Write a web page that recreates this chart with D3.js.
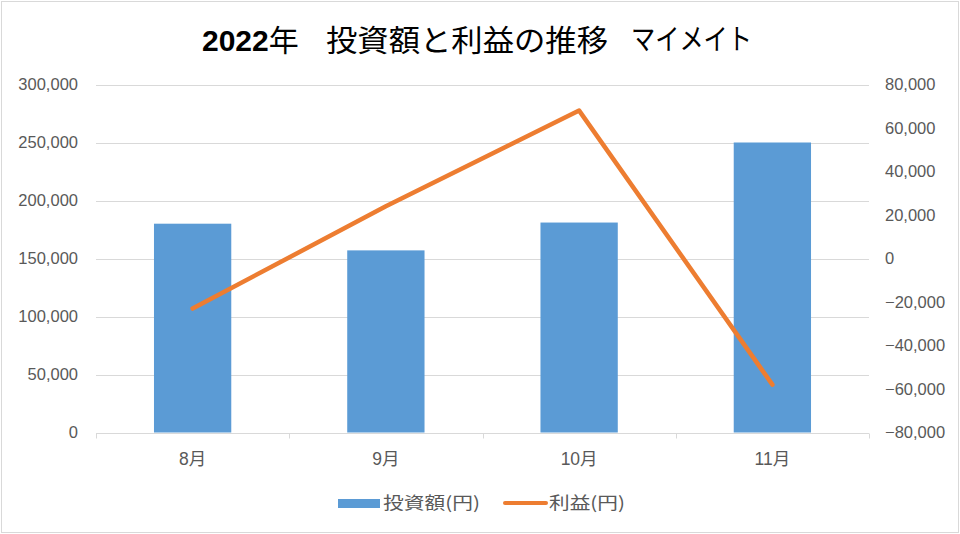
<!DOCTYPE html>
<html><head><meta charset="utf-8">
<script src="https://cdn.jsdelivr.net/npm/d3@7"></script>
<style>
html,body{margin:0;padding:0;background:#fff;}
svg{display:block;}
</style>
</head><body>
<svg id="c" width="960" height="534"></svg>
<script>
const categories = ["8月", "9月", "10月", "11月"];
const investment = [180000, 157000, 181000, 250000];
const profit = [-23000, 24000, 68000, -58000];
const leftTicks = [0, 50000, 100000, 150000, 200000, 250000, 300000];
const rightTicks = [-80000, -60000, -40000, -20000, 0, 20000, 40000, 60000, 80000];
const titleParts = ["2022", "年", "投資額と利益の推移", "マイメイト"];
const legendLabels = ["投資額(円)", "利益(円)"];

const svg = d3.select("#c");
const W = 960, H = 534;
const plot = {left: 96, right: 869, top: 84.5, bottom: 432.5};
const labelFont = "'Liberation Sans','Noto Sans CJK JP',sans-serif";
const cjkFont = "'Noto Sans CJK JP','Liberation Sans',sans-serif";
const textColor = "#595959";
const gridColor = "#d9d9d9";
const barColor = "#5b9bd5";
const lineColor = "#ed7d31";

svg.append("rect").attr("x", 1.5).attr("y", 1.5).attr("width", W - 3).attr("height", H - 3)
  .attr("fill", "#fff").attr("stroke", "#d9d9d9").attr("stroke-width", 1);

const x = d3.scaleBand().domain(categories).range([plot.left, plot.right]).paddingInner(0.6).paddingOuter(0.3);
const yL = d3.scaleLinear().domain([0, 300000]).range([plot.bottom, plot.top]);
const yR = d3.scaleLinear().domain([-80000, 80000]).range([plot.bottom, plot.top]);
const fmt = d3.format(",");

// gridlines
svg.append("g").selectAll("line").data(leftTicks.filter(d => d !== 0)).join("line")
  .attr("x1", plot.left).attr("x2", plot.right)
  .attr("y1", d => Math.round(yL(d)) + 0.5).attr("y2", d => Math.round(yL(d)) + 0.5)
  .attr("stroke", gridColor).attr("stroke-width", 1);

// left axis labels
const gl = svg.append("g").attr("transform", `translate(${plot.left - 18},0)`)
  .call(d3.axisLeft(yL).tickValues(leftTicks).tickFormat(fmt).tickSize(0).tickPadding(0));
gl.select(".domain").remove();
gl.selectAll("text").attr("font-family", labelFont).attr("font-size", 16.5).attr("fill", textColor);

// right axis labels
const gr = svg.append("g").attr("transform", `translate(${plot.right + 16},0)`)
  .call(d3.axisRight(yR).tickValues(rightTicks).tickFormat(fmt).tickSize(0).tickPadding(0));
gr.select(".domain").remove();
gr.selectAll("text").attr("font-family", labelFont).attr("font-size", 16.5).attr("fill", textColor);

// bars
svg.append("g").selectAll("rect").data(categories).join("rect")
  .attr("x", d => x(d)).attr("width", x.bandwidth())
  .attr("y", (d, i) => yL(investment[i]))
  .attr("height", (d, i) => yL(0) - yL(investment[i]))
  .attr("fill", barColor);

// bottom axis
const gx = svg.append("g").attr("transform", `translate(0,${Math.round(plot.bottom) + 0.5})`);
gx.append("line").attr("x1", plot.left).attr("x2", plot.right).attr("stroke", gridColor).attr("stroke-width", 1);
const boundaries = d3.range(categories.length + 1).map(i => plot.left + i * (plot.right - plot.left) / categories.length);
gx.selectAll("line.tk").data(boundaries).join("line").attr("class", "tk")
  .attr("x1", d => Math.round(d) + 0.5).attr("x2", d => Math.round(d) + 0.5)
  .attr("y1", 0).attr("y2", 5).attr("stroke", gridColor);
gx.selectAll("text").data(categories).join("text")
  .attr("x", d => x(d) + x.bandwidth() / 2).attr("y", 458 - plot.bottom)
  .attr("dy", "0.35em").attr("text-anchor", "middle")
  .attr("font-family", labelFont).attr("font-size", 17.5).attr("fill", textColor)
  .text(d => d);

// line
const line = d3.line().x((d, i) => x(categories[i]) + x.bandwidth() / 2).y(d => yR(d));
svg.append("path").datum(profit).attr("d", line)
  .attr("fill", "none").attr("stroke", lineColor).attr("stroke-width", 4.5)
  .attr("stroke-linejoin", "round").attr("stroke-linecap", "round");

// title
const tg = svg.append("g").attr("fill", "#000");
const t1 = tg.append("text").attr("x", 202).attr("y", 40).attr("dy", "0.35em").attr("font-size", 30);
t1.append("tspan").attr("font-family", "'Liberation Sans',sans-serif").attr("font-weight", "bold").text(titleParts[0]);
t1.append("tspan").attr("font-family", cjkFont).text(titleParts[1]);
tg.append("text").attr("x", 326).attr("y", 40).attr("dy", "0.35em").attr("font-size", 30)
  .attr("font-family", cjkFont).attr("textLength", 282).attr("lengthAdjust", "spacingAndGlyphs").text(titleParts[2]);
tg.append("text").attr("x", 631).attr("y", 40).attr("dy", "0.35em").attr("font-size", 29)
  .attr("font-family", cjkFont).attr("textLength", 121).attr("lengthAdjust", "spacingAndGlyphs").text(titleParts[3]);

// legend
const lg = svg.append("g");
lg.append("rect").attr("x", 338).attr("y", 499).attr("width", 42).attr("height", 9).attr("fill", barColor);
lg.append("text").attr("x", 383).attr("y", 503).attr("dy", "0.35em")
  .attr("font-family", cjkFont).attr("font-size", 17).attr("fill", textColor)
  .attr("textLength", 97).attr("lengthAdjust", "spacingAndGlyphs").text(legendLabels[0]);
lg.append("line").attr("x1", 505).attr("x2", 546).attr("y1", 503).attr("y2", 503)
  .attr("stroke", lineColor).attr("stroke-width", 4).attr("stroke-linecap", "round");
lg.append("text").attr("x", 549).attr("y", 503).attr("dy", "0.35em")
  .attr("font-family", cjkFont).attr("font-size", 17).attr("fill", textColor)
  .attr("textLength", 76).attr("lengthAdjust", "spacingAndGlyphs").text(legendLabels[1]);
</script>
</body></html>
